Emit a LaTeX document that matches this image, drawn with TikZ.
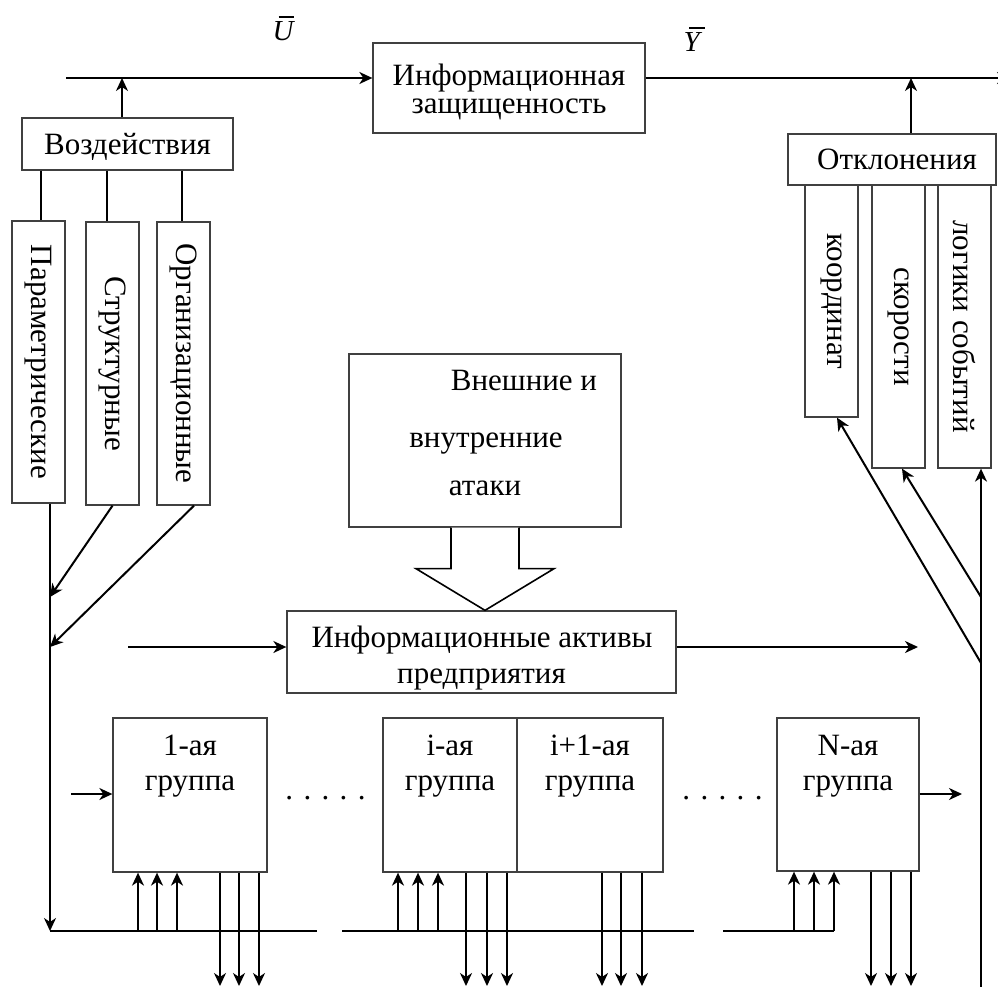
\documentclass[tikz,border=0pt]{standalone}
\usepackage{fontspec}
\setmainfont{Liberation Serif}
\usetikzlibrary{arrows.meta,calc}
% italic letter with a bar over it
\newcommand\barletter[1]{\leavevmode\rlap{\hspace{0.2em}\rule[0.8em]{0.55em}{0.055em}}\textit{#1}}
\begin{document}
\begin{tikzpicture}[x=1pt,y=-1pt,
  box/.style={draw=black!75,line width=1.3pt,inner sep=0pt},
  conn/.style={line width=2pt},
  arr/.style={conn,-{Stealth[length=13pt,width=12pt,inset=4pt]}},
  txt/.style={font=\fontsize{31}{34}\selectfont,inner sep=0pt,anchor=base},
  vtxt/.style={font=\fontsize{31}{34}\selectfont,inner sep=0pt,rotate=-90},
  sym/.style={font=\fontsize{29}{32}\selectfont,inner sep=0pt,anchor=base}
]
\useasboundingbox (0,0) rectangle (998,987);
\clip (0,0) rectangle (998,987);

% ---- top row: object and its input/output
\node[box,minimum width=272,minimum height=90] (prot) at (509,88) {};
\node[txt] (prot1) at (509,86) {Информационная};
\node[txt] (prot2) at (509,114) {защищенность};
\node[sym] (ubar) at (284,41) {\barletter{U}};
\node[sym] (ybar) at (693,52) {\barletter{Y}};

% ---- influences (left)
\node[box,minimum width=211,minimum height=52] (vozd) at (127.5,144) {};
\node[txt] (vozdt) at (127.5,155) {Воздействия};
\node[box,minimum width=53,minimum height=282] (par) at (38.5,362) {};
\node[box,minimum width=53,minimum height=283] (str) at (112.5,363.5) {};
\node[box,minimum width=53,minimum height=283] (org) at (183.5,363.5) {};
\node[vtxt] (part) at (par) {Параметрические};
\node[vtxt] (strt) at (str) {Структурные};
\node[vtxt] (orgt) at (org) {Организационные};

% ---- deviations (right)
\node[box,minimum width=208,minimum height=51] (otk) at (892,159.5) {};
\node[txt] (otkt) at (897,170) {Отклонения};
\node[box,minimum width=53,minimum height=232] (koord) at (831.5,301) {};
\node[box,minimum width=53,minimum height=283] (skor) at (898.5,326.5) {};
\node[box,minimum width=53,minimum height=283] (logi) at (964.5,326.5) {};
\node[vtxt] (koordt) at (koord) {координат};
\node[vtxt] (skort) at (skor) {скорости};
\node[vtxt] (logit) at (logi) {логики событий};

% ---- attacks
\node[box,minimum width=272,minimum height=173] (ataki) at (485,440.5) {};
\node[txt] (at1) at (524,390) {Внешние и};
\node[txt] (at2) at (486,447) {внутренние};
\node[txt] (at3) at (485,495) {атаки};

% ---- assets
\node[box,minimum width=389,minimum height=82] (aktiv) at (481.5,652) {};
\node[txt] (ak1) at (482,647) {Информационные активы};
\node[txt] (ak2) at (481.5,683) {предприятия};

% ---- groups
\node[box,minimum width=154,minimum height=154] (g1) at (190,795) {};
\node[box,minimum width=134,minimum height=154] (gi) at (450,795) {};
\node[box,minimum width=146,minimum height=154] (gi1) at (590,795) {};
\node[box,minimum width=142,minimum height=153] (gN) at (848,794.5) {};
\node[txt] (g1a) at (190,755) {1-ая};
\node[txt] (g1b) at (190,790) {группа};
\node[txt] (gia) at (450,755) {i-ая};
\node[txt] (gib) at (450,790) {группа};
\node[txt] (gi1a) at (590,755) {i+1-ая};
\node[txt] (gi1b) at (590,790) {группа};
\node[txt] (gNa) at (848,755) {N-ая};
\node[txt] (gNb) at (848,790) {группа};
\node[txt] (dots1) at (325.5,799) {. . . . .};
\node[txt] (dots2) at (722.5,799) {. . . . .};

% ---- connectors: top line
\coordinate (uin) at (66,78);
\coordinate (yout) at (1010,78);
\draw[arr] (uin) -- (uin -| prot.west);
\draw[arr] (prot.east |- yout) -- (yout);
\coordinate (vup) at (122,78);
\draw[arr] (vozd.north -| vup) -- (vup);
\coordinate (oup) at (911,78);
\draw[arr] (otk.north -| oup) -- (oup);

% influences to the vertical boxes
\foreach \xx/\b in {41/par,107/str,182/org}{
  \coordinate (vv) at (\xx,200);
  \draw[conn] (vozd.south -| vv) -- (\b.north -| vv);
}

% left collecting line
\coordinate (busL) at (50,931);
\coordinate (j1) at (50,597);
\coordinate (j2) at (50,647);
\draw[arr] (par.south -| busL) -- (busL);
\draw[arr] (str.south) -- (j1);
\draw[arr] ($(org.south)+(10.5,0)$) -- (j2);

% assets in/out
\coordinate (ain) at (128,647);
\coordinate (aout) at (918,647);
\draw[arr] (ain) -- (ain -| aktiv.west);
\draw[arr] (aktiv.east |- aout) -- (aout);

% block arrow: attacks -> assets
\draw[line width=1.6pt,fill=white,line join=miter]
  ($(ataki.south)+(-34,0)$) -- ($(ataki.south)+(-34,41)$) -- ($(ataki.south)+(-69,41)$)
  -- (ataki.south |- aktiv.north)
  -- ($(ataki.south)+(69,41)$) -- ($(ataki.south)+(34,41)$) -- ($(ataki.south)+(34,0)$);

% right collecting line
\coordinate (rbot) at (981,992);
\coordinate (r1) at (981,663);
\coordinate (r2) at (981,597);
\draw[arr] (rbot) -- (rbot |- logi.south);
\draw[arr] (r1) -- ($(koord.south)+(5.5,0)$);
\draw[arr] (r2) -- ($(skor.south)+(3.5,0)$);

% group in/out
\coordinate (gin) at (71,794);
\coordinate (gout) at (962,794);
\draw[arr] (gin) -- (gin -| g1.west);
\draw[arr] (gN.east |- gout) -- (gout);

% bus line
\coordinate (b1e) at (317,931);
\coordinate (b2s) at (342,931);
\coordinate (b2e) at (694,931);
\coordinate (b3s) at (723,931);
\coordinate (b3e) at (834,931);
\draw[conn] (busL) -- (b1e);
\draw[conn] (b2s) -- (b2e);
\draw[conn] (b3s) -- (b3e);

% inputs from the bus into groups
\foreach \xx/\g in {138/g1,157/g1,177/g1,398/gi,418/gi,438/gi,794/gN,814/gN,834/gN}{
  \coordinate (tt) at (\xx,931);
  \draw[arr] (tt) -- (tt |- \g.south);
}
% outputs of groups
\foreach \xx/\g in {220/g1,239/g1,259/g1,466/gi,487/gi,507/gi,602/gi1,621/gi1,642/gi1,871/gN,891/gN,911/gN}{
  \coordinate (tt) at (\xx,986);
  \draw[arr] (tt |- \g.south) -- (tt);
}
\end{tikzpicture}
\end{document}
